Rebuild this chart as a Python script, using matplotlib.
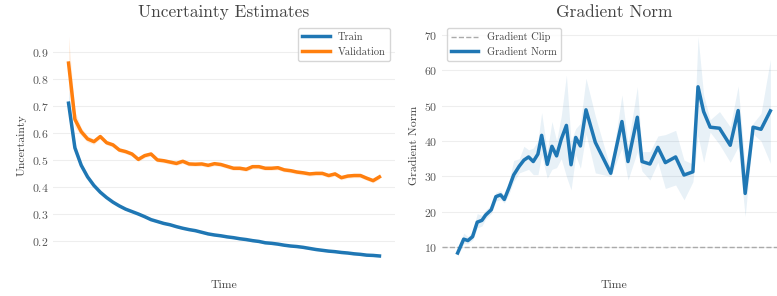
import numpy as np
import matplotlib.pyplot as plt

plt.rcParams['font.family'] = ['cmr10', 'DejaVu Serif']
plt.rcParams['axes.formatter.use_mathtext'] = True

# Uncertainty estimates (50 steps)
train_unc = [0.711, 0.545, 0.480, 0.437, 0.405, 0.380, 0.360, 0.343, 0.329, 0.317,
             0.308, 0.299, 0.289, 0.278, 0.271, 0.264, 0.259, 0.252, 0.246, 0.241,
             0.237, 0.231, 0.225, 0.221, 0.218, 0.214, 0.211, 0.207, 0.204, 0.200,
             0.197, 0.192, 0.190, 0.187, 0.183, 0.180, 0.178, 0.175, 0.171, 0.167,
             0.164, 0.161, 0.159, 0.156, 0.154, 0.151, 0.149, 0.146, 0.145, 0.143]
val_unc = [0.860, 0.651, 0.605, 0.578, 0.568, 0.587, 0.564, 0.556, 0.537, 0.531,
           0.522, 0.502, 0.516, 0.522, 0.500, 0.497, 0.492, 0.487, 0.495, 0.485,
           0.484, 0.485, 0.480, 0.486, 0.483, 0.476, 0.469, 0.469, 0.465, 0.475,
           0.475, 0.469, 0.469, 0.471, 0.463, 0.460, 0.455, 0.452, 0.448, 0.450,
           0.450, 0.442, 0.448, 0.434, 0.440, 0.442, 0.442, 0.432, 0.423, 0.437]
train_err = [0.05, 0.02, 0.012, 0.008, 0.006] + [0.004] * 45
val_err = [0.10, 0.03, 0.015, 0.012, 0.010] + [0.008] * 45

# Gradient norm
grad_time = [0, 1.3, 2.2, 3.2, 4.2, 5.2, 6.0, 7.2, 8.2, 9.2,
             10.0, 11.0, 12.0, 13.2, 14.2, 15.2, 16.2, 17.2, 18.0, 19.2,
             20.2, 21.2, 22.2, 23.3, 24.3, 25.3, 26.3, 27.5, 29.5, 32.8,
             35.2, 36.5, 38.5, 39.5, 41.2, 42.9, 44.5, 46.7, 48.5, 50.4,
             51.5, 52.7, 54.1, 56.1, 58.4, 60.1, 61.6, 63.3, 65.0, 67.0]
grad_norm = [8.4, 12.3, 11.9, 13.0, 17.1, 17.6, 19.1, 20.6, 24.3, 24.8,
             23.5, 26.8, 30.4, 32.9, 34.6, 35.5, 34.2, 36.3, 41.6, 33.4,
             38.5, 35.8, 40.5, 44.4, 33.3, 41.0, 38.6, 48.8, 39.6, 30.9,
             45.5, 34.2, 46.7, 34.2, 33.5, 38.2, 33.9, 35.5, 30.4, 31.3,
             55.3, 48.3, 43.9, 43.6, 38.8, 48.6, 25.2, 43.9, 43.3, 48.5]
grad_lo = [7.5, 11.0, 11.0, 12.0, 15.5, 16.0, 18.0, 19.5, 23.0, 23.5,
           22.5, 25.0, 28.5, 31.0, 31.5, 32.0, 30.5, 30.5, 36.0, 29.5,
           32.0, 32.5, 35.0, 30.0, 26.2, 36.0, 32.3, 42.0, 31.0, 30.0,
           38.0, 29.0, 37.0, 31.5, 29.0, 34.0, 26.6, 27.6, 23.4, 28.5,
           41.5, 34.0, 42.5, 39.0, 34.0, 38.4, 18.7, 42.0, 40.0, 33.7]
grad_hi = [9.5, 14.0, 13.0, 14.5, 19.5, 19.0, 20.5, 22.0, 25.5, 26.0,
           24.5, 28.5, 34.5, 35.0, 38.5, 37.5, 38.0, 40.0, 48.0, 37.0,
           45.5, 40.0, 47.0, 58.6, 40.0, 43.5, 45.0, 57.7, 47.0, 32.0,
           53.0, 39.0, 55.3, 37.0, 37.0, 41.4, 41.8, 43.0, 34.6, 33.5,
           69.5, 53.0, 46.0, 48.3, 44.0, 55.5, 33.0, 45.0, 47.8, 63.0]
grad_clip = 10

blue = '#1f77b4'
orange = '#ff7f0e'
text_col = '#444444'

fig = plt.figure(figsize=(7.77, 2.96), dpi=100)
ax1 = fig.add_axes([53 / 777, 29 / 296, 342 / 777, 244 / 296])
ax2 = fig.add_axes([442 / 777, 29 / 296, 344 / 777, 244 / 296])

steps = np.arange(len(train_unc))
tu, te = np.array(train_unc), np.array(train_err)
vu, ve = np.array(val_unc), np.array(val_err)
ax1.fill_between(steps, tu - te, tu + te, color=blue, alpha=0.12, lw=0)
ax1.fill_between(steps, vu - ve, vu + ve, color=orange, alpha=0.12, lw=0)
ax1.plot(steps, train_unc, color=blue, lw=2.5, label='Train')
ax1.plot(steps, val_unc, color=orange, lw=2.5, label='Validation')
ax1.set_ylim(0.102, 1.009)
ax1.set_yticks([0.2, 0.3, 0.4, 0.5, 0.6, 0.7, 0.8, 0.9])
ax1.set_title('Uncertainty Estimates', fontsize=12.5, color=text_col, pad=4)
ax1.set_ylabel('Uncertainty', fontsize=8.5, color=text_col)
ax1.set_xlabel('Time', fontsize=8.5, color=text_col, labelpad=10)
ax1.legend(loc='upper right', fontsize=7.5, handlelength=2.6)

ax2.fill_between(grad_time, grad_lo, grad_hi, color=blue, alpha=0.1, lw=0)
ax2.axhline(grad_clip, color='#aaaaaa', ls='--', lw=1, label='Gradient Clip')
ax2.plot(grad_time, grad_norm, color=blue, lw=2.5, label='Gradient Norm')
ax2.set_ylim(4.44, 73.3)
ax2.set_yticks([10, 20, 30, 40, 50, 60, 70])
ax2.set_title('Gradient Norm', fontsize=12.5, color=text_col, pad=4)
ax2.set_ylabel('Gradient Norm', fontsize=8.5, color=text_col)
ax2.set_xlabel('Time', fontsize=8.5, color=text_col, labelpad=10)
ax2.legend(loc='upper left', fontsize=7.5, handlelength=2.6)

for ax in (ax1, ax2):
    ax.set_xticks([])
    ax.grid(True, axis='y', color='#eeeeee', lw=0.8)
    ax.set_axisbelow(True)
    for s in ax.spines.values():
        s.set_visible(False)
    ax.tick_params(axis='y', length=0, pad=3, labelsize=8.5, labelcolor='#555555')
    ax.legend_.get_frame().set_edgecolor('#cccccc')
    for t in ax.legend_.get_texts():
        t.set_color(text_col)

fig.savefig('out.png', dpi=100)
